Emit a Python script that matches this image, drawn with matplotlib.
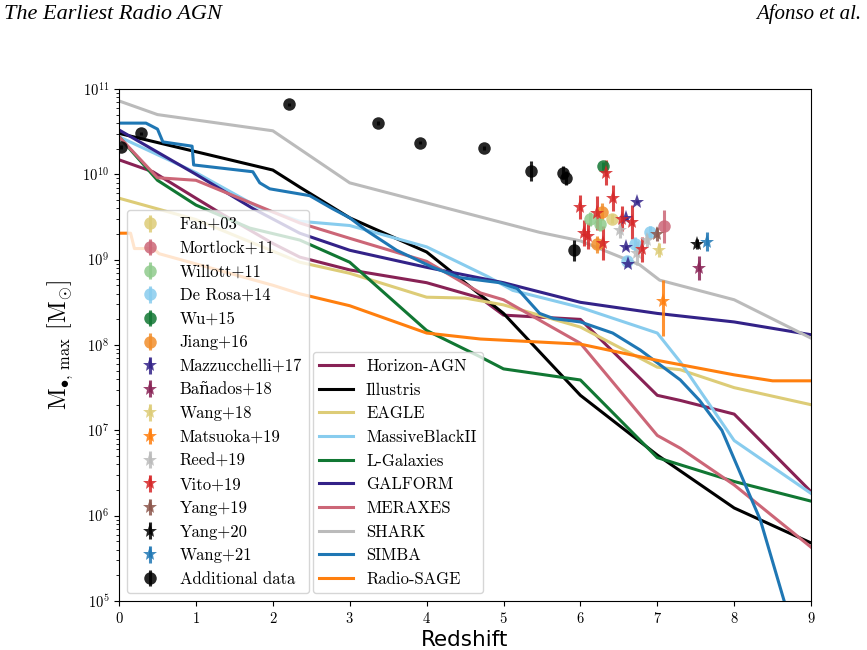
import numpy as np
import matplotlib
matplotlib.use("Agg")
import matplotlib.pyplot as plt

plt.rcParams['font.family'] = ['cmr10', 'DejaVu Serif']
plt.rcParams['mathtext.fontset'] = 'cm'
plt.rcParams['axes.formatter.use_mathtext'] = True
plt.rcParams['axes.unicode_minus'] = False

# ---------------- model curves (redshift, log10 M_BH,max) ----------------
hagn_z = [0, 0.44, 1.0, 1.31, 2.0, 2.35, 3, 4, 4.7, 5.0, 6.0, 7.0, 7.3, 8.0, 9.0]
hagn_m = [10.17, 10.03, 9.72, 9.55, 9.19, 9.03, 8.88, 8.73, 8.55, 8.35, 8.30, 7.41, 7.35, 7.19, 6.28]

ill_z = [0, 2, 2.35, 3, 4, 5, 6, 7, 8, 9]
ill_m = [10.48, 10.05, 9.85, 9.49, 9.09, 8.37, 7.41, 6.71, 6.09, 5.68]

eagle_z = [0, 1.0, 2.35, 3, 4, 4.5, 5, 6, 7, 7.3, 8, 9]
eagle_m = [9.72, 9.47, 8.97, 8.84, 8.56, 8.55, 8.47, 8.21, 7.74, 7.71, 7.5, 7.3]

mbii_z = [0, 1.0, 1.8, 2.35, 3.0, 4.0, 4.8, 5.12, 6.0, 7.0, 7.3, 8.0, 9.0]
mbii_m = [10.44, 10.02, 9.62, 9.45, 9.40, 9.15, 8.80, 8.64, 8.44, 8.14, 7.80, 6.88, 6.26]

lgal_z = [0, 0.5, 1.0, 1.7, 2.35, 3.0, 4.0, 4.7, 5.0, 6.0, 7.0, 8.0, 9.0]
lgal_m = [10.44, 9.93, 9.64, 9.37, 9.23, 8.97, 8.17, 7.86, 7.72, 7.59, 6.68, 6.40, 6.17]

galf_z = [0, 1, 1.74, 2.35, 3, 4, 5, 6, 7, 8, 9]
galf_m = [10.52, 10.0, 9.6, 9.31, 9.11, 8.91, 8.73, 8.50, 8.37, 8.27, 8.12]

merx_z = [0, 0.5, 1.0, 2.35, 3, 4, 4.7, 5.0, 6, 7, 7.3, 8, 9]
merx_m = [10.44, 9.96, 9.93, 9.43, 9.25, 8.98, 8.61, 8.53, 8.02, 6.94, 6.79, 6.36, 5.63]

shark_z = [0, 0.5, 2, 3, 5.47, 6, 6.77, 7.03, 8.0, 9]
shark_m = [10.86, 10.70, 10.51, 9.90, 9.32, 9.22, 8.94, 8.76, 8.53, 8.08]

simba_z = [0, 0.35, 0.5, 0.57, 0.95, 0.97, 1.74, 1.83, 1.96, 2.48, 2.77, 3.0, 3.22,
           3.61, 4.08, 4.43, 4.95, 5.18, 5.47, 5.65, 6.0, 6.42, 6.78, 7.3, 7.55,
           7.84, 8.34, 8.65, 8.8]
simba_m = [10.60, 10.60, 10.53, 10.38, 10.33, 10.11, 10.03, 9.90, 9.83, 9.75, 9.60,
           9.49, 9.34, 9.11, 8.91, 8.79, 8.73, 8.66, 8.37, 8.31, 8.27, 8.14, 7.94,
           7.59, 7.35, 7.0, 5.95, 5.0, 4.6]

rsage_z = [0, 0.15, 0.2, 0.45, 0.52, 1.0, 2.0, 2.35, 3.0, 4.0, 4.7, 6.0, 7.0, 8.0, 8.5, 9.0]
rsage_m = [9.31, 9.31, 9.13, 9.13, 9.07, 8.95, 8.70, 8.60, 8.46, 8.14, 8.07, 8.01,
           7.82, 7.65, 7.58, 7.58]

model_names = ['Horizon-AGN', 'Illustris', 'EAGLE', 'MassiveBlackII', 'L-Galaxies',
               'GALFORM', 'MERAXES', 'SHARK', 'SIMBA', 'Radio-SAGE']
model_colors = ['#882255', '#000000', '#DDCC77', '#88CCEE', '#117733',
                '#332288', '#CC6677', '#BBBBBB', '#1f77b4', '#ff7f0e']
model_data = [(hagn_z, hagn_m), (ill_z, ill_m), (eagle_z, eagle_m), (mbii_z, mbii_m),
              (lgal_z, lgal_m), (galf_z, galf_m), (merx_z, merx_m), (shark_z, shark_m),
              (simba_z, simba_m), (rsage_z, rsage_m)]

# ---------------- observations (z, log10 M, err dex) ----------------
fan_z = [6.41]; fan_m = [9.48]; fan_e = [0.05]
mort_z = [7.09]; mort_m = [9.39]; mort_e = [0.19]
will_z = [6.12, 6.25]; will_m = [9.48, 9.42]; will_e = [0.08, 0.08]
dero_z = [6.90, 6.71, 6.60]; dero_m = [9.32, 9.18, 8.98]; dero_e = [0.08, 0.08, 0.06]
wu_z = [6.30]; wu_m = [10.10]; wu_e = [0.05]
jiang_z = [6.28, 6.22]; jiang_m = [9.56, 9.18]; jiang_e = [0.1, 0.1]
mazz_z = [6.73, 6.59, 6.59, 6.62]; mazz_m = [9.68, 9.49, 9.15, 8.95]; mazz_e = [0.02, 0.02, 0.02, 0.02]
bana_z = [7.54]; bana_m = [8.90]; bana_e = [0.14]
wang18_z = [7.02]; wang18_m = [9.11]; wang18_e = [0.08]
mats_z = [7.07]; mats_m = [8.51]; mats_elo = [0.40]; mats_ehi = [0.25]
reed_z = [6.51, 6.74, 6.86]; reed_m = [9.35, 9.08, 9.23]; reed_e = [0.1, 0.14, 0.08]
vito_z = [6.00, 6.05, 6.10, 6.22, 6.30, 6.33, 6.43, 6.54, 6.67, 6.80]
vito_m = [9.62, 9.31, 9.28, 9.55, 9.20, 10.02, 9.72, 9.48, 9.44, 9.12]
vito_e = [0.14, 0.15, 0.15, 0.2, 0.2, 0.15, 0.15, 0.15, 0.2, 0.15]
yang19_z = [7.00]; yang19_m = [9.30]; yang19_e = [0.08]
yang20_z = [7.52]; yang20_m = [9.18]; yang20_e = [0.06]
wang21_z = [7.64]; wang21_m = [9.21]; wang21_e = [0.11]
add_z = [0.02, 0.29, 2.21, 3.37, 3.91, 4.75, 5.36, 5.77, 5.81, 5.92]
add_m = [10.32, 10.48, 10.82, 10.60, 10.37, 10.31, 10.04, 10.02, 9.96, 9.11]
add_e = [0.02, 0.02, 0.02, 0.02, 0.02, 0.02, 0.12, 0.08, 0.08, 0.12]

obs = [
    ('Fan+03', fan_z, fan_m, fan_e, fan_e, 'o', '#DDCC77'),
    ('Mortlock+11', mort_z, mort_m, mort_e, mort_e, 'o', '#CC6677'),
    ('Willott+11', will_z, will_m, will_e, will_e, 'o', '#8fcb8c'),
    ('De Rosa+14', dero_z, dero_m, dero_e, dero_e, 'o', '#88CCEE'),
    ('Wu+15', wu_z, wu_m, wu_e, wu_e, 'o', '#117733'),
    ('Jiang+16', jiang_z, jiang_m, jiang_e, jiang_e, 'o', '#f28e2b'),
    ('Mazzucchelli+17', mazz_z, mazz_m, mazz_e, mazz_e, '*', '#332288'),
    ('Bañados+18', bana_z, bana_m, bana_e, bana_e, '*', '#882255'),
    ('Wang+18', wang18_z, wang18_m, wang18_e, wang18_e, '*', '#DDCC77'),
    ('Matsuoka+19', mats_z, mats_m, mats_elo, mats_ehi, '*', '#ff7f0e'),
    ('Reed+19', reed_z, reed_m, reed_e, reed_e, '*', '#BBBBBB'),
    ('Vito+19', vito_z, vito_m, vito_e, vito_e, '*', '#d62728'),
    ('Yang+19', yang19_z, yang19_m, yang19_e, yang19_e, '*', '#8c564b'),
    ('Yang+20', yang20_z, yang20_m, yang20_e, yang20_e, '*', '#000000'),
    ('Wang+21', wang21_z, wang21_m, wang21_e, wang21_e, '*', '#1f77b4'),
    ('Additional data', add_z, add_m, add_e, add_e, 'o', '#000000'),
]

fig = plt.figure(figsize=(8.67, 6.5), dpi=100)
ax = fig.add_axes([0.1373, 0.0754, 0.7982, 0.7877])

line_handles = []
for name, col, (zz, mm) in zip(model_names, model_colors, model_data):
    h, = ax.plot(zz, 10 ** np.array(mm), color=col, lw=2.2, label=name, zorder=2)
    line_handles.append(h)

obs_handles = []
for name, zz, mm, elo, ehi, mk, col in obs:
    mm = np.array(mm)
    m = 10 ** mm
    lo = m - 10 ** (mm - np.array(elo))
    hi = 10 ** (mm + np.array(ehi)) - m
    ms = 9 if mk == 'o' else 11
    h = ax.errorbar(zz, m, yerr=[lo, hi], fmt=mk, color=col, ms=ms, elinewidth=2.2,
                    capsize=0, alpha=0.85, label=name, zorder=3, mew=0)
    obs_handles.append(h)

ax.set_yscale('log')
ax.set_xlim(0, 9)
ax.set_ylim(1e5, 1e11)
ax.set_xticks(range(10))
ax.tick_params(labelsize=10.5)
ax.set_ylabel(r'M$_{\bullet,\,\max}$ [M$_{\odot}$]', fontsize=17, labelpad=5)
ax.set_xlabel('Redshift', fontsize=15.5, family='DejaVu Sans', labelpad=3)

leg1 = ax.legend(handles=obs_handles, loc='lower left', bbox_to_anchor=(0.0, 0.0),
                 fontsize=12, labelspacing=0.5, handletextpad=0.8, borderaxespad=0.45)
ax.add_artist(leg1)
leg2 = ax.legend(handles=line_handles, loc='lower left', bbox_to_anchor=(0.269, 0.0),
                 fontsize=12, labelspacing=0.5, borderaxespad=0.45)

fig.text(0.005, 0.978, 'The Earliest Radio AGN', family='Liberation Serif', style='italic',
         fontsize=16, ha='left', va='center')
fig.text(0.993, 0.978, 'Afonso et al.', family='Liberation Serif', style='italic',
         fontsize=15, ha='right', va='center')

fig.savefig('out.png', dpi=100)
